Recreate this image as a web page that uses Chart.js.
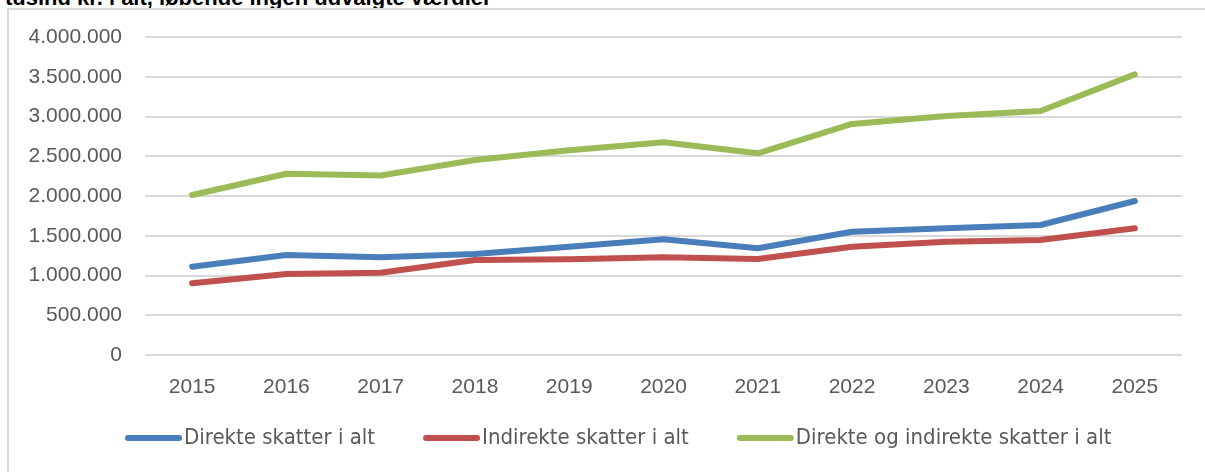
<!DOCTYPE html>
<html>
<head>
<meta charset="utf-8">
<script src="https://cdn.jsdelivr.net/npm/chart.js@4.4.1/dist/chart.umd.min.js"></script>
<style>
  html, body { margin: 0; padding: 0; background: #fff; overflow: hidden; }
  #wrap { position: relative; width: 1205px; height: 472px; }
  #title {
    position: absolute; left: 5px; top: -15px;
    font: bold 22px "Liberation Sans", Arial, sans-serif; color: #000;
    white-space: nowrap;
  }
  #frame {
    position: absolute; left: 7px; top: 8px; width: 1300px; height: 600px;
    border-left: 2px solid #d9d9d9; border-top: 2px solid #d9d9d9;
  }
  #chart { position: absolute; left: 0; top: 0; }
</style>
</head>
<body>
<div id="wrap">
  <div id="title">tusind kr. i alt, løbende ingen udvalgte værdier</div>
  <div id="frame"></div>
  <canvas id="chart" width="1205" height="472"></canvas>
</div>
<script>
// Data (tusind kr.)
var years = ['2015', '2016', '2017', '2018', '2019', '2020', '2021', '2022', '2023', '2024', '2025'];
var direkte = [1111000, 1258000, 1229000, 1270000, 1362000, 1455000, 1342000, 1551000, 1593000, 1635000, 1937000];
var indirekte = [902000, 1019000, 1035000, 1195000, 1203000, 1228000, 1207000, 1362000, 1425000, 1447000, 1594000];
var samlet = [2013000, 2280000, 2258000, 2453000, 2575000, 2675000, 2537000, 2906000, 3006000, 3070000, 3530000];

var seriesLabels = ['Direkte skatter i alt', 'Indirekte skatter i alt', 'Direkte og indirekte skatter i alt'];
var seriesColors = ['#4a7ebb', '#c0504d', '#9bbb59'];

var yMax = 4000000;
var yStep = 500000;

function formatDk(v) {
    return String(v).replace(/\B(?=(\d{3})+(?!\d))/g, '.');
}

// Simple legend drawn under the plot, Excel style (line sample + text)
var excelLegend = {
    id: 'excelLegend',
    afterDraw: function(chart) {
        var ctx = chart.ctx;
        var x = 125;
        var y = 438;
        ctx.save();
        ctx.font = '22px "Liberation Sans Narrow", "DejaVu Sans Condensed", Arial, sans-serif';
        ctx.textBaseline = 'middle';
        chart.data.datasets.forEach(function(ds) {
            ctx.strokeStyle = ds.borderColor;
            ctx.lineWidth = 6;
            ctx.lineCap = 'round';
            ctx.beginPath();
            ctx.moveTo(x + 3, y);
            ctx.lineTo(x + 54, y);
            ctx.stroke();
            ctx.fillStyle = '#595959';
            ctx.fillText(ds.label, x + 59, y);
            x += 59 + ctx.measureText(ds.label).width + 48;
        });
        ctx.restore();
    }
};

var datasets = [direkte, indirekte, samlet].map(function(values, i) {
    return {
        label: seriesLabels[i],
        data: values,
        borderColor: seriesColors[i],
        backgroundColor: seriesColors[i],
        borderWidth: 6,
        borderCapStyle: 'round',
        borderJoinStyle: 'round',
        pointRadius: 0,
        tension: 0,
        fill: false
    };
});

new Chart(document.getElementById('chart').getContext('2d'), {
    type: 'line',
    data: { labels: years, datasets: datasets },
    options: {
        responsive: false,
        animation: false,
        layout: { padding: { left: 0, right: 23, top: 37, bottom: 0 } },
        plugins: {
            legend: { display: false },
            tooltip: { enabled: false }
        },
        scales: {
            x: {
                offset: true,
                grid: { display: false, drawTicks: false },
                border: { display: false },
                ticks: {
                    color: '#595959',
                    padding: 20,
                    maxRotation: 0,
                    font: { family: '"Liberation Sans", Arial, sans-serif', size: 21 }
                },
                afterFit: function(scale) { scale.height = 117; }
            },
            y: {
                min: 0,
                max: yMax,
                grid: { color: '#d9d9d9', lineWidth: 2, drawTicks: false },
                border: { display: false },
                ticks: {
                    stepSize: yStep,
                    color: '#595959',
                    padding: 23,
                    font: { family: '"Liberation Sans", Arial, sans-serif', size: 21 },
                    callback: function(v) { return formatDk(v); }
                },
                afterFit: function(scale) { scale.width = 145; }
            }
        }
    },
    plugins: [excelLegend]
});
</script>
</body>
</html>
